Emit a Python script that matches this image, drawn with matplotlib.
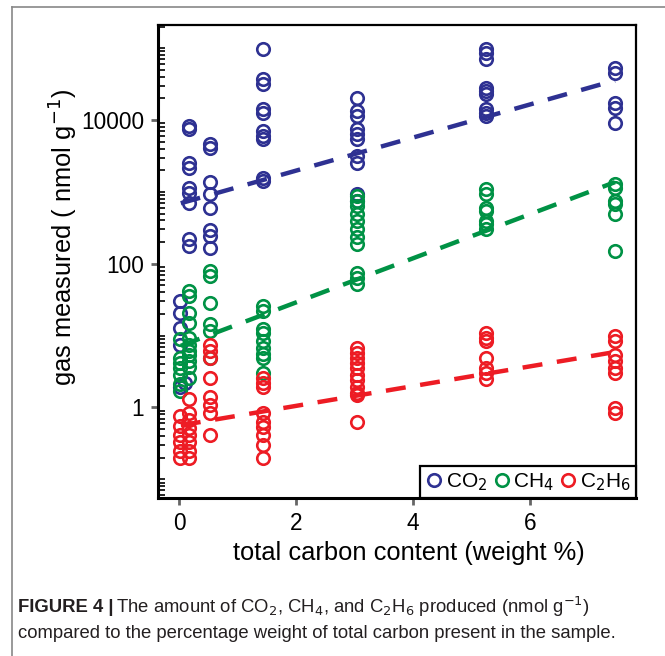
import numpy as np
import matplotlib
matplotlib.use("Agg")
import matplotlib.pyplot as plt
from matplotlib.lines import Line2D
from matplotlib.ticker import FixedLocator, FixedFormatter, LogLocator, NullFormatter

plt.rcParams['font.family'] = ['Liberation Sans', 'DejaVu Sans']

# sample groups (total carbon, weight %)
co2_x = [0.02] * 5 + [0.1] + [0.17] * 9 + [0.53] * 8 + [1.44] * 10 + [3.04] * 10 + [5.25] * 9 + [7.45] * 5
co2_y = [30.6, 20.9, 12.9, 7.3, 1.9,
         2.2,
         8260, 7500, 2530, 2150, 1136, 970, 700, 222, 178,
         4640, 4080, 1376, 938, 600, 297, 245, 167,
         96800, 37100, 31600, 14200, 12500, 7030, 6000, 5450, 1565, 1420,
         20200, 13300, 11400, 7500, 6390, 5450, 3160, 2530, 938, 750,
         96800, 85000, 70300, 27800, 25300, 23000, 14200, 12500, 11400,
         52700, 45000, 17200, 14700, 9090]

ch4_x = [0.02] * 7 + [0.17] * 11 + [0.53] * 6 + [1.44] * 9 + [3.04] * 11 + [5.25] * 7 + [7.45] * 6
ch4_y = [9.1, 4.8, 4.2, 3.5, 2.8, 2.15, 1.72,
         42, 36, 20.9, 15.2, 9.4, 7.3, 6.2, 5.3, 4.5, 3.6, 2.6,
         80, 68, 28.7, 14.7, 11.7, 4.8,
         26, 22, 12.5, 10.7, 8.5, 6.8, 5.6, 4.8, 3.0,
         880, 750, 640, 495, 395, 306, 237, 190, 75, 64, 53,
         1100, 938, 600, 545, 395, 360, 306,
         1290, 1136, 750, 680, 495, 152]

c2h6_x = [0.02] * 6 + [0.17] * 8 + [0.53] * 8 + [1.44] * 9 + [3.04] * 11 + [5.25] * 7 + [7.45] * 8
c2h6_y = [0.77, 0.56, 0.41, 0.33, 0.25, 0.20,
          1.33, 0.83, 0.66, 0.51, 0.41, 0.33, 0.25, 0.20,
          7.3, 6.2, 4.9, 2.6, 1.38, 1.07, 0.83, 0.41,
          2.6, 2.2, 1.9, 0.85, 0.62, 0.53, 0.41, 0.30, 0.20,
          6.8, 5.8, 4.9, 4.1, 3.5, 2.8, 2.4, 1.9, 1.6, 1.47, 0.62,
          11, 9.4, 8.5, 4.9, 3.5, 3.0, 2.5,
          10, 8.5, 5.3, 4.5, 3.5, 3.0, 0.97, 0.83]

# regression lines: log10(y) = a + b * x
fit_a = {'CO2': 2.835, 'CH4': 0.848, 'C2H6': -0.253}
fit_b = {'CO2': 0.2303, 'CH4': 0.307, 'C2H6': 0.1375}
fit_range = [0.03, 7.45]

labels = ['CO$_2$', 'CH$_4$', 'C$_2$H$_6$']
colors = ['#2E3192', '#009245', '#ED1C24']

fig = plt.figure(figsize=(6.65, 6.56), dpi=100)
ax = fig.add_axes([0.2376, 0.2409, 0.7188, 0.7210])

series = [('CO2', co2_x, co2_y), ('CH4', ch4_x, ch4_y), ('C2H6', c2h6_x, c2h6_y)]
for (key, xs, ys), lab, col in zip(series, labels, colors):
    ax.plot(xs, ys, 'o', mfc='none', mec=col, ms=9, mew=1.9, label=lab, zorder=3)
    xx = np.array(fit_range)
    ax.plot(xx, 10 ** (fit_a[key] + fit_b[key] * xx), color=col, lw=3.2,
            dashes=(4.5, 3.3), zorder=4)

ax.set_yscale('log')
ax.set_xlim(-0.36, 7.81)
ax.set_ylim(0.055, 2.1e5)

ax.xaxis.set_major_locator(FixedLocator([0, 2, 4, 6]))
ax.yaxis.set_major_locator(FixedLocator([1, 100, 10000]))
ax.yaxis.set_major_formatter(FixedFormatter(['1', '100', '10000']))
ax.yaxis.set_minor_locator(LogLocator(base=10, subs=np.arange(1, 10), numticks=30))
ax.yaxis.set_minor_formatter(NullFormatter())
ax.tick_params(which='major', direction='out', length=5, width=2, color='#666666',
               labelsize=16.3, pad=5)
ax.tick_params(axis='y', which='minor', direction='in', length=5, width=1.2, color='black')
ax.tick_params(axis='x', which='minor', length=0)

for side in ['left', 'bottom']:
    ax.spines[side].set_linewidth(2.2)
for side in ['top', 'right']:
    ax.spines[side].set_linewidth(1.6)

ax.set_xlabel('total carbon content (weight %)', fontsize=18.4)
ax.xaxis.set_label_coords(0.525, -0.09)
ax.set_ylabel('gas measured ( nmol g$^{-1}$)', fontsize=18.4)
ax.yaxis.set_label_coords(-0.166, 0.55)

leg = ax.legend(loc='lower right', ncol=3, fontsize=15, borderaxespad=0,
                handletextpad=0.1, columnspacing=0.25, handlelength=0.9,
                fancybox=False, edgecolor='black', framealpha=1,
                borderpad=0.25)
leg.get_frame().set_linewidth(1.6)

# outer gray frame of the figure panel
fig.add_artist(Line2D([12 / 665, 1], [1 - 7 / 656, 1 - 7 / 656], color='#888888', lw=1.2))
fig.add_artist(Line2D([12 / 665, 12 / 665], [0, 1 - 7 / 656], color='#888888', lw=1.2))

# caption
fig.canvas.draw()
r = fig.canvas.get_renderer()
t1 = fig.text(18 / 665, 1 - 607 / 656, 'FIGURE 4 |', fontsize=13.3, weight='bold',
              color='#231F20', va='center')
bb = t1.get_window_extent(r)
fig.text(bb.x1 / fig.bbox.width + 0.004, 1 - 607 / 656,
         'The amount of CO$_2$, CH$_4$, and C$_2$H$_6$ produced (nmol g$^{-1}$)',
         fontsize=13.3, color='#231F20', va='center')
fig.text(18 / 665, 1 - 633 / 656,
         'compared to the percentage weight of total carbon present in the sample.',
         fontsize=13.3, color='#231F20', va='center')

fig.savefig('out.png', dpi=100)
